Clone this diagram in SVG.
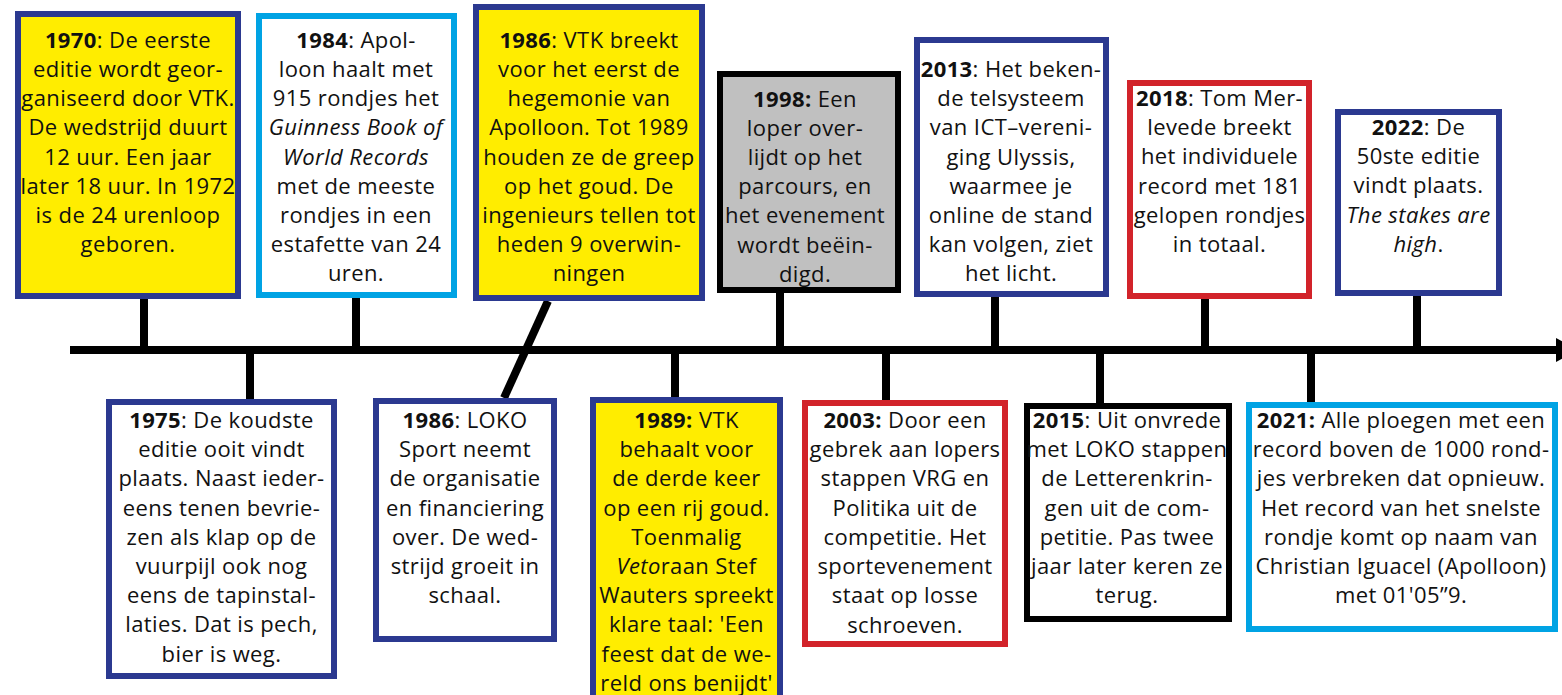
<svg xmlns="http://www.w3.org/2000/svg" width="1562" height="695" viewBox="0 0 1562 695">
<style>
.box{stroke-width:6}
.navy{stroke:#2b3990}
.lblue{stroke:#00a3e4}
.red{stroke:#d2232a}
.blk{stroke:#000}
.yel{fill:#ffed00}
.wht{fill:#fff}
.gry{fill:#c0c0c0}
.t{font-family:"Open Sans","Liberation Sans",sans-serif;font-size:22px;letter-spacing:0.4px;fill:#111;text-anchor:middle}
.b{font-weight:700}
.i{font-style:italic}
.ln{stroke:#000;stroke-width:8;fill:none}
</style>
<rect width="1562" height="695" fill="#fff"/>
<g id="connectors">
<line class="ln" x1="70" y1="350" x2="1558" y2="350"/>
<polygon points="1556,338 1556,362 1578,350" fill="#000"/>
<line class="ln" x1="144" y1="298" x2="144" y2="350"/>
<line class="ln" x1="356" y1="297" x2="356" y2="350"/>
<line class="ln" x1="780" y1="292" x2="780" y2="350"/>
<line class="ln" x1="995" y1="296" x2="995" y2="350"/>
<line class="ln" x1="1205" y1="298" x2="1205" y2="350"/>
<line class="ln" x1="1417" y1="295" x2="1417" y2="350"/>
<line class="ln" x1="250" y1="350" x2="250" y2="400"/>
<line class="ln" x1="675" y1="350" x2="675" y2="398"/>
<line class="ln" x1="886" y1="350" x2="886" y2="401"/>
<line class="ln" x1="1100" y1="350" x2="1100" y2="404"/>
<line class="ln" x1="1311" y1="350" x2="1311" y2="403"/>
<line class="ln" x1="548" y1="301" x2="504" y2="398"/>
</g>
<g id="n1970">
<rect class="box navy yel" x="18" y="14" width="220" height="282"/>
<text class="t"><tspan x="128" y="48"><tspan class="b">1970</tspan>: De eerste</tspan><tspan x="128" y="77">editie wordt geor-</tspan><tspan x="128" y="106">ganiseerd door VTK.</tspan><tspan x="128" y="135">De wedstrijd duurt</tspan><tspan x="128" y="165">12 uur. Een jaar</tspan><tspan x="128" y="194">later 18 uur. In 1972</tspan><tspan x="128" y="223">is de 24 urenloop</tspan><tspan x="128" y="252">geboren.</tspan></text>
</g>
<g id="n1984">
<rect class="box lblue wht" x="259" y="16" width="195" height="279"/>
<text class="t"><tspan x="356" y="48"><tspan class="b">1984</tspan>: Apol-</tspan><tspan x="356" y="77">loon haalt met</tspan><tspan x="356" y="106">915 rondjes het</tspan><tspan x="356" y="135" class="i">Guinness Book of</tspan><tspan x="356" y="165" class="i">World Records</tspan><tspan x="356" y="194">met de meeste</tspan><tspan x="356" y="223">rondjes in een</tspan><tspan x="356" y="252">estafette van 24</tspan><tspan x="356" y="281">uren.</tspan></text>
</g>
<g id="n1986a">
<rect class="box navy yel" x="476" y="7" width="226" height="291"/>
<text class="t"><tspan x="589" y="48"><tspan class="b">1986</tspan>: VTK breekt</tspan><tspan x="589" y="77">voor het eerst de</tspan><tspan x="589" y="106">hegemonie van</tspan><tspan x="589" y="135">Apolloon. Tot 1989</tspan><tspan x="589" y="165">houden ze de greep</tspan><tspan x="589" y="194">op het goud. De</tspan><tspan x="589" y="223">ingenieurs tellen tot</tspan><tspan x="589" y="252">heden 9 overwin-</tspan><tspan x="589" y="281">ningen</tspan></text>
</g>
<g id="n1998">
<rect class="box blk gry" x="720" y="74" width="178" height="216"/>
<text class="t"><tspan x="805" y="107"><tspan class="b">1998:</tspan> Een</tspan><tspan x="805" y="136">loper over-</tspan><tspan x="805" y="165">lijdt op het</tspan><tspan x="805" y="194">parcours, en</tspan><tspan x="805" y="223">het evenement</tspan><tspan x="805" y="253">wordt beëin-</tspan><tspan x="805" y="282">digd.</tspan></text>
</g>
<g id="n2013">
<rect class="box navy wht" x="917" y="40" width="189" height="254"/>
<text class="t"><tspan x="1011" y="77"><tspan class="b">2013</tspan>: Het beken-</tspan><tspan x="1011" y="106">de telsysteem</tspan><tspan x="1011" y="135">van ICT–vereni-</tspan><tspan x="1011" y="165">ging Ulyssis,</tspan><tspan x="1011" y="194">waarmee je</tspan><tspan x="1011" y="223">online de stand</tspan><tspan x="1011" y="252">kan volgen, ziet</tspan><tspan x="1011" y="281">het licht.</tspan></text>
</g>
<g id="n2018">
<rect class="box red wht" x="1130" y="83" width="179" height="213"/>
<text class="t"><tspan x="1219.5" y="106"><tspan class="b">2018</tspan>: Tom Mer-</tspan><tspan x="1219.5" y="135">levede breekt</tspan><tspan x="1219.5" y="164">het individuele</tspan><tspan x="1219.5" y="194">record met 181</tspan><tspan x="1219.5" y="223">gelopen rondjes</tspan><tspan x="1219.5" y="252">in totaal.</tspan></text>
</g>
<g id="n2022">
<rect class="box navy wht" x="1338" y="112" width="161" height="181"/>
<text class="t"><tspan x="1418.5" y="135"><tspan class="b">2022</tspan>: De</tspan><tspan x="1418.5" y="164">50ste editie</tspan><tspan x="1418.5" y="193">vindt plaats.</tspan><tspan x="1418.5" y="223" class="i">The stakes are</tspan><tspan x="1418.5" y="252"><tspan class="i">high</tspan>.</tspan></text>
</g>
<g id="n1975">
<rect class="box navy wht" x="109" y="402" width="225" height="274"/>
<text class="t"><tspan x="221.5" y="428"><tspan class="b">1975</tspan>: De koudste</tspan><tspan x="221.5" y="457">editie ooit vindt</tspan><tspan x="221.5" y="486">plaats. Naast ieder-</tspan><tspan x="221.5" y="516">eens tenen bevrie-</tspan><tspan x="221.5" y="545">zen als klap op de</tspan><tspan x="221.5" y="574">vuurpijl ook nog</tspan><tspan x="221.5" y="603">eens de tapinstal-</tspan><tspan x="221.5" y="632">laties. Dat is pech,</tspan><tspan x="221.5" y="662">bier is weg.</tspan></text>
</g>
<g id="n1986b">
<rect class="box navy wht" x="376" y="401" width="178" height="238"/>
<text class="t"><tspan x="465" y="428"><tspan class="b">1986</tspan>: LOKO</tspan><tspan x="465" y="457">Sport neemt</tspan><tspan x="465" y="486">de organisatie</tspan><tspan x="465" y="516">en financiering</tspan><tspan x="465" y="545">over. De wed-</tspan><tspan x="465" y="574">strijd groeit in</tspan><tspan x="465" y="603">schaal.</tspan></text>
</g>
<g id="n1989">
<rect class="box navy yel" x="593" y="400" width="187" height="300"/>
<text class="t"><tspan x="686.5" y="428"><tspan class="b">1989:</tspan> VTK</tspan><tspan x="686.5" y="457">behaalt voor</tspan><tspan x="686.5" y="486">de derde keer</tspan><tspan x="686.5" y="516">op een rij goud.</tspan><tspan x="686.5" y="545">Toenmalig</tspan><tspan x="686.5" y="574"><tspan class="i">Veto</tspan>raan Stef</tspan><tspan x="686.5" y="603">Wauters spreekt</tspan><tspan x="686.5" y="632">klare taal: 'Een</tspan><tspan x="686.5" y="662">feest dat de we-</tspan><tspan x="686.5" y="691">reld ons benijdt'</tspan></text>
</g>
<g id="n2003">
<rect class="box red wht" x="805" y="403" width="200" height="241"/>
<text class="t"><tspan x="905" y="428"><tspan class="b">2003:</tspan> Door een</tspan><tspan x="905" y="457">gebrek aan lopers</tspan><tspan x="905" y="486">stappen VRG en</tspan><tspan x="905" y="516">Politika uit de</tspan><tspan x="905" y="545">competitie. Het</tspan><tspan x="905" y="574">sportevenement</tspan><tspan x="905" y="603">staat op losse</tspan><tspan x="905" y="633">schroeven.</tspan></text>
</g>
<g id="n2015">
<rect class="box blk wht" x="1027" y="406" width="202" height="213"/>
<text class="t"><tspan x="1127" y="428"><tspan class="b">2015</tspan>: Uit onvrede</tspan><tspan x="1127" y="457">met LOKO stappen</tspan><tspan x="1127" y="486">de Letterenkrin-</tspan><tspan x="1127" y="516">gen uit de com-</tspan><tspan x="1127" y="545">petitie. Pas twee</tspan><tspan x="1127" y="574">jaar later keren ze</tspan><tspan x="1127" y="603">terug.</tspan></text>
</g>
<g id="n2021">
<rect class="box lblue wht" x="1249" y="405" width="306" height="224"/>
<text class="t"><tspan x="1401" y="428"><tspan class="b">2021:</tspan> Alle ploegen met een</tspan><tspan x="1401" y="457">record boven de 1000 rond-</tspan><tspan x="1401" y="486">jes verbreken dat opnieuw.</tspan><tspan x="1401" y="516">Het record van het snelste</tspan><tspan x="1401" y="545">rondje komt op naam van</tspan><tspan x="1401" y="574">Christian Iguacel (Apolloon)</tspan><tspan x="1401" y="603">met 01'05”9.</tspan></text>
</g>
</svg>
